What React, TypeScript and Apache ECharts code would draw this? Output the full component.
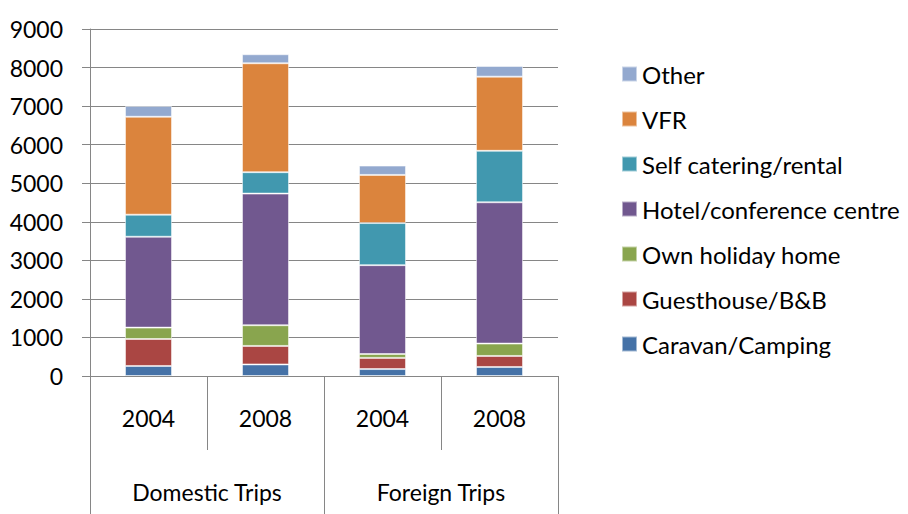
import React, { useEffect, useRef } from "react";
import * as echarts from "echarts";

const years = ["2004", "2008", "2004", "2008"];
const groups = ["Domestic Trips", "Foreign Trips"];
const yTicks = [0, 1000, 2000, 3000, 4000, 5000, 6000, 7000, 8000, 9000];

const caravan = [260, 300, 180, 234];
const guesthouse = [700, 480, 290, 286];
const ownHome = [295, 537, 100, 321];
const hotel = [2357, 3414, 2305, 3665];
const selfCatering = [572, 555, 1092, 1335];
const vfr = [2540, 2825, 1248, 1923];
const other = [280, 234, 242, 278];

const seriesDefs = [
  { name: "Caravan/Camping", data: caravan, color: "#4572A7" },
  { name: "Guesthouse/B&B", data: guesthouse, color: "#AA4643" },
  { name: "Own holiday home", data: ownHome, color: "#89A54E" },
  { name: "Hotel/conference centre", data: hotel, color: "#71588F" },
  { name: "Self catering/rental", data: selfCatering, color: "#4198AF" },
  { name: "VFR", data: vfr, color: "#DB843D" },
  { name: "Other", data: other, color: "#93A9CF" },
];

const FONT = "Lato";
const AXIS_GRAY = "#868686";
const FS = 23;

export default function App() {
  const ref = useRef<HTMLDivElement>(null);
  useEffect(() => {
    if (!ref.current) return;
    const chart = echarts.init(ref.current, null, { renderer: "svg" });
    chart.setOption({
      animation: false,
      textStyle: { fontFamily: FONT },
      grid: { left: 90, right: 350, top: 29, bottom: 138, containLabel: false },
      legend: {
        orient: "vertical",
        left: 616,
        top: 57,
        itemWidth: 15,
        itemHeight: 15,
        itemGap: 21,
        icon: "rect",
        data: seriesDefs.map((s) => s.name).reverse(),
        textStyle: { fontFamily: FONT, fontSize: 24, lineHeight: 23, color: "#000" },
      },
      xAxis: [
        {
          type: "category",
          data: years,
          position: "bottom",
          axisLine: { show: true, lineStyle: { color: AXIS_GRAY, width: 1 } },
          axisTick: { show: true, length: 74, interval: 0, lineStyle: { color: AXIS_GRAY } },
          axisLabel: { fontFamily: FONT, fontSize: FS, color: "#000", margin: 30, interval: 0 },
        },
        {
          type: "category",
          data: groups,
          position: "bottom",
          axisLine: { show: false },
          axisTick: { show: true, length: 138, interval: 0, lineStyle: { color: AXIS_GRAY } },
          axisLabel: { fontFamily: FONT, fontSize: FS, color: "#000", margin: 104, interval: 0 },
        },
      ],
      yAxis: {
        type: "value",
        min: yTicks[0],
        max: yTicks[yTicks.length - 1],
        interval: 1000,
        axisLine: { show: true, lineStyle: { color: AXIS_GRAY, width: 1 } },
        axisTick: { show: true, length: 8, lineStyle: { color: AXIS_GRAY } },
        splitLine: { show: true, lineStyle: { color: AXIS_GRAY, width: 1 } },
        axisLabel: {
          fontFamily: FONT,
          fontSize: FS,
          color: "#000",
          margin: 27,
          formatter: (v: number) => String(v),
        },
      },
      series: seriesDefs.map((s) => ({
        name: s.name,
        type: "bar",
        stack: "total",
        xAxisIndex: 0,
        barWidth: 47,
        data: s.data,
        itemStyle: { color: s.color, borderColor: "rgba(255,255,255,0.5)", borderWidth: 1 },
      })),
    });
    return () => chart.dispose();
  }, []);
  return <div ref={ref} style={{ width: 908, height: 514, position: "absolute", left: 0, top: 0 }} />;
}
